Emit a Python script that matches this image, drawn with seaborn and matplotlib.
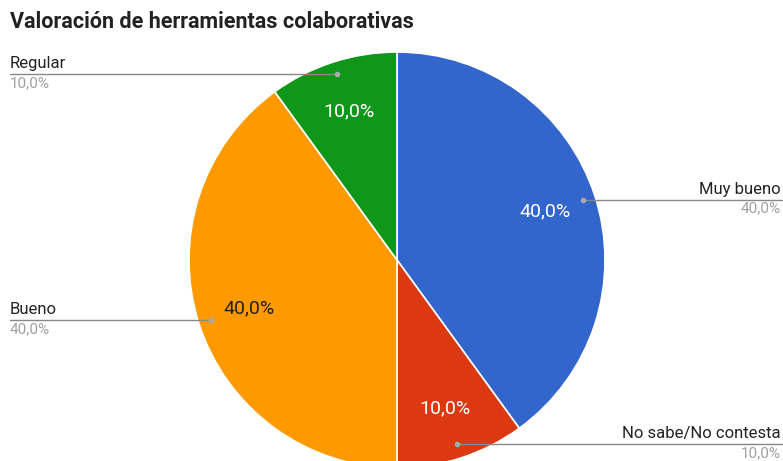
import numpy as np
import matplotlib
matplotlib.use("Agg")
import matplotlib.pyplot as plt
import seaborn as sns

# Datos
categorias = ["Muy bueno", "No sabe/No contesta", "Bueno", "Regular"]
valores = [40, 10, 40, 10]
colores = ["#3366cc", "#dc3912", "#ff9900", "#109618"]
color_texto = ["white", "white", "#222222", "white"]
titulo = "Valoración de herramientas colaborativas"

sns.set_theme(style="white")
plt.rcParams['font.family'] = ['Roboto', 'DejaVu Sans']

fig = plt.figure(figsize=(7.83, 4.61), dpi=100)
ax = fig.add_axes([0, 0, 1, 1])

# pie en coordenadas de pixel (y hacia abajo = negativa)
cx, cy, R = 397, -260, 208
wedges, textos, pcts = ax.pie(
    valores,
    colors=colores,
    startangle=90,
    counterclock=False,
    center=(cx, cy),
    radius=R,
    autopct=lambda p: f"{p:.1f}%".replace('.', ','),
    pctdistance=0.75,
    wedgeprops=dict(edgecolor='white', linewidth=1.2),
    textprops=dict(fontsize=14),
)
for t, c in zip(pcts, color_texto):
    t.set_color(c)

ax.set_xlim(0, 783)
ax.set_ylim(-461, 0)
ax.set_aspect('equal')
ax.axis('off')

# etiquetas con lineas guia
for w, cat, v in zip(wedges, categorias, valores):
    ang = np.deg2rad((w.theta1 + w.theta2) / 2)
    px = cx + 0.94 * R * np.cos(ang)
    py = cy + 0.94 * R * np.sin(ang)
    py = max(py, -444)  # que la etiqueta inferior quepa
    pct = f"{v:.1f}%".replace('.', ',')
    if np.cos(ang) >= 0:
        x0, x1, ha = px, 783, 'right'
        tx = 781
    else:
        x0, x1, ha = 10, px, 'left'
        tx = 10
    ax.plot([x0, x1], [py, py], color='#888888', lw=1, zorder=3)
    ax.plot(px, py, 'o', color='#aaaaaa', ms=3, zorder=4)
    ax.text(tx, py + 3, cat, ha=ha, va='bottom', fontsize=12, color='#222222')
    ax.text(tx, py - 13, pct, ha=ha, va='baseline', fontsize=11, color='#a0a0a0')

fig.text(10 / 783, 1 - 22 / 461, titulo, ha='left', va='center',
         fontsize=15.5, fontweight='bold', color='#222222')

fig.savefig("out.png", dpi=100)
